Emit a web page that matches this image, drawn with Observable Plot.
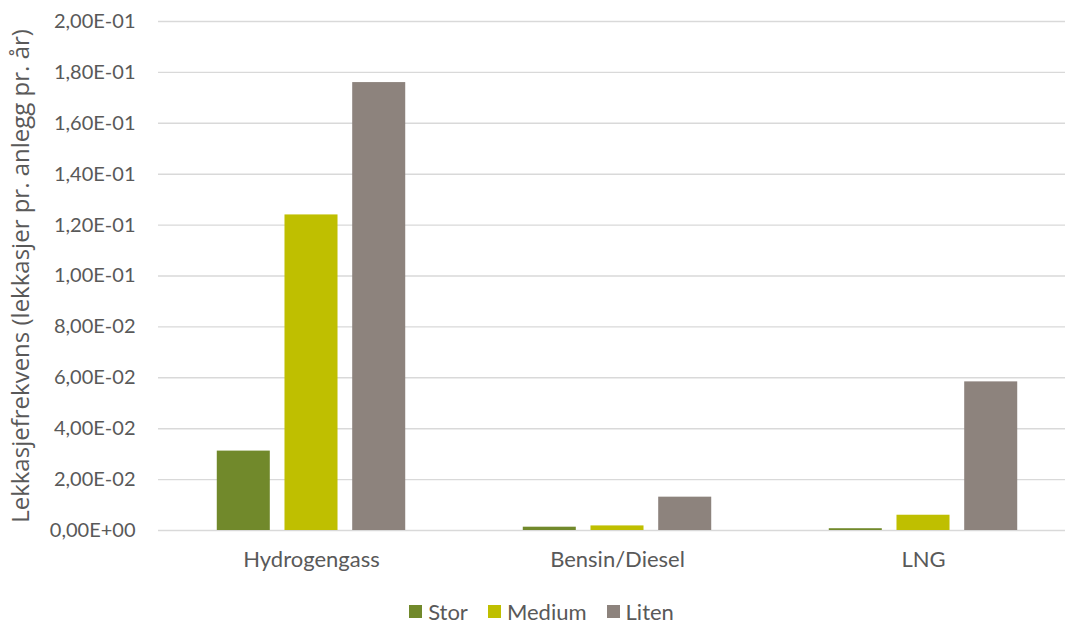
<!DOCTYPE html>
<html><head><meta charset="utf-8">
<script src="https://cdn.jsdelivr.net/npm/d3@7"></script>
<script src="https://cdn.jsdelivr.net/npm/@observablehq/plot@0.6"></script>
<style>
html,body{margin:0;padding:0;background:#fff;overflow:hidden}
#chart{width:1065px;}
#legendwrap{display:flex;justify-content:center;margin-top:7px;padding-left:38px;font-family:Lato,sans-serif;}
#legendwrap span > svg{margin-right:6px !important;}
#legendwrap span{margin-right:20px !important;}
</style></head><body><div id="chart"></div><script>
const categories = ["Hydrogengass", "Bensin/Diesel", "LNG"];
const series = ["Stor", "Medium", "Liten"];
const stor = [0.0312, 0.0013, 0.0007];
const medium = [0.1240, 0.0018, 0.0060];
const liten = [0.1760, 0.0131, 0.0584];
const colors = ["#71892B", "#BFBF00", "#8D837D"];
const yTicks = [0, 0.02, 0.04, 0.06, 0.08, 0.10, 0.12, 0.14, 0.16, 0.18, 0.20];
const yLabel = "Lekkasjefrekvens (lekkasjer pr. anlegg pr. år)";

const values = {Stor: stor, Medium: medium, Liten: liten};
const data = categories.flatMap((c, i) => series.map(s => ({category: c, series: s, value: values[s][i]})));

function fmt(d) {
  const [m, e] = d.toExponential(2).split("e");
  const ex = +e;
  return m.replace(".", ",") + "E" + (ex < 0 ? "-" : "+") + String(Math.abs(ex)).padStart(2, "0");
}

const plot = Plot.plot({
  width: 1065,
  height: 588,
  marginLeft: 158,
  marginRight: 0,
  marginTop: 21,
  marginBottom: 58,
  style: {fontFamily: "Lato, sans-serif", fontSize: "20px", color: "#595959", background: "#fff"},
  fx: {domain: categories, range: [158, 1076], padding: 0, label: null},
  x: {domain: series, paddingInner: 0.217, paddingOuter: 0.868, round: false, axis: null},
  y: {domain: [0, 0.2], label: null},
  color: {domain: series, range: colors},
  marks: [
    Plot.gridY(yTicks, {stroke: "#D9D9D9", strokeOpacity: 1, strokeWidth: 1.4}),
    Plot.barY(data, {fx: "category", x: "series", y: "value", fill: "series"}),
    Plot.axisY(yTicks, {tickSize: 0, tickPadding: 23, tickFormat: fmt, label: null, fill: "#595959"}),
    Plot.axisY({label: yLabel, ticks: [], tickSize: 0, labelAnchor: "center", labelArrow: "none", labelOffset: 147, fill: "#595959", fontSize: 24, fontFamily: "Open Sans, sans-serif"}),
    Plot.axisFx({tickSize: 0, tickPadding: 21, label: null, anchor: "bottom", fill: "#595959", fontSize: 22})
  ]
});
document.getElementById("chart").appendChild(plot);

const leg = plot.legend("color", {swatchSize: 13, style: {fontFamily: "Lato, sans-serif", fontSize: "22px", color: "#595959"}});
const wrap = document.createElement("div");
wrap.id = "legendwrap";
wrap.appendChild(leg);
document.getElementById("chart").appendChild(wrap);
</script></body></html>
